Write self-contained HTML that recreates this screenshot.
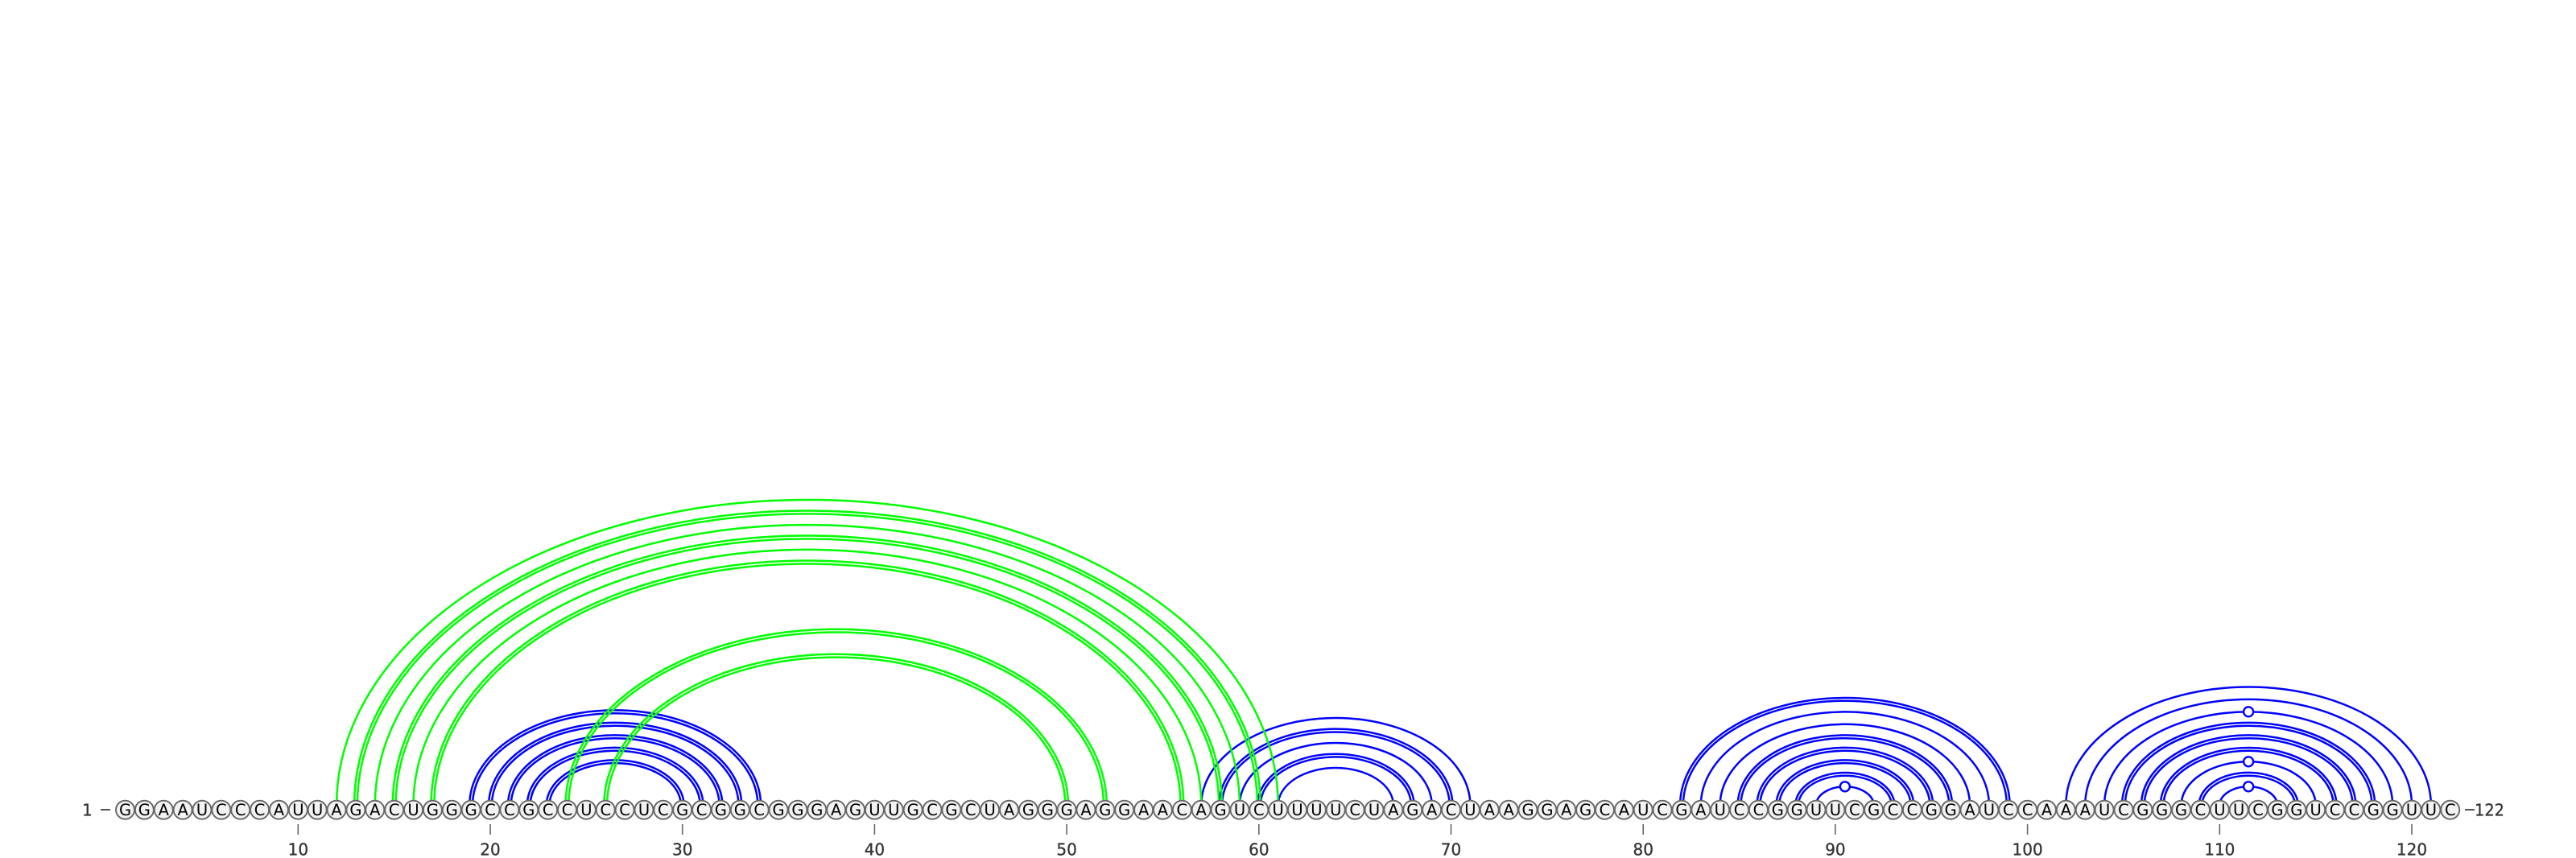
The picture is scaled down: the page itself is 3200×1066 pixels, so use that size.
<!DOCTYPE html>
<html lang="en">
<head>
<meta charset="utf-8">
<title>RNA arc diagram</title>
<style>
html,body{margin:0;padding:0;background:#fff;width:3200px;height:1066px;overflow:hidden}
svg{display:block}
text{font-family:"DejaVu Sans","Liberation Sans",sans-serif}
</style>
</head>
<body>
<svg id="chart" xmlns="http://www.w3.org/2000/svg" width="3200" height="1066" viewBox="0 0 3200 1066">
  <g id="blue-layer"></g>
  <g id="green-layer"></g>
  <g id="base-layer"></g>
  <g id="tick-layer"></g>
  <text x="102" y="1013.5" font-size="20" fill="#333" stroke="#333" stroke-width="0.3">1</text>
  <line x1="125" x2="137" y1="1006" y2="1006" stroke="#555" stroke-width="2"/>
  <line x1="3062" x2="3074" y1="1006" y2="1006" stroke="#555" stroke-width="2"/>
  <text x="3074" y="1013.5" font-size="20" textLength="37" lengthAdjust="spacingAndGlyphs" fill="#333" stroke="#333" stroke-width="0.3">122</text>
</svg>
<script>
const sequence = ["G","G","A","A","U","C","C","C","A","U","U","A","G","A","C","U","G","G","G","C","C","G","C","C","U","C","C","U","C","G","C","G","G","C","G","G","G","A","G","U","U","G","C","G","C","U","A","G","G","G","A","G","G","A","A","C","A","G","U","C","U","U","U","U","C","U","A","G","A","C","U","A","A","G","G","A","G","C","A","U","C","G","A","U","C","C","G","G","U","U","C","G","C","C","G","G","A","U","C","C","A","A","A","U","C","G","G","G","C","U","U","C","G","G","U","C","C","G","G","U","U","C"];
const bluePairs = [[19,34],[20,33],[21,32],[22,31],[23,30],[57,71],[58,70],[59,69],[60,68],[61,67],[82,99],[83,98],[84,97],[85,96],[86,95],[87,94],[88,93],[89,92],[102,121],[103,120],[104,119],[105,118],[106,117],[107,116],[108,115],[109,114],[110,113]];
const greenPairs = [[12,61],[13,60],[14,59],[15,58],[16,57],[17,56],[24,52],[26,50]];
const tickValues = [10,20,30,40,50,60,70,80,90,100,110,120];

const SVG_NS = "http://www.w3.org/2000/svg";
const trackY = 1006.2;
const arcBaseY = 1000.5;
const heightRatio = 0.649;
const xOf = i => 155.5 + (i - 1) * 23.87;

function bondType(i, j) {
  const k = [sequence[i - 1], sequence[j - 1]].sort().join("");
  if (k === "CG") return "double";
  if (k === "GU") return "wobble";
  return "single";
}
function arcPath(i, j, d) {
  const x1 = xOf(i) - d, x2 = xOf(j) + d;
  const rx = (x2 - x1) / 2;
  const ry = (xOf(j) - xOf(i)) / 2 * heightRatio + d;
  return "M" + x1 + " " + arcBaseY + "A" + rx + " " + ry + " 0 0 1 " + x2 + " " + arcBaseY;
}
function drawArcs(layer, pairs, color, label, width, gap) {
  pairs.forEach(function (p) {
    const i = p[0], j = p[1], type = bondType(i, j);
    const offsets = type === "double" ? [gap, -gap] : [0];
    offsets.forEach(function (d) {
      const path = document.createElementNS(SVG_NS, "path");
      path.setAttribute("d", arcPath(i, j, d));
      path.setAttribute("fill", "none");
      path.setAttribute("stroke", color);
      path.setAttribute("stroke-width", width);
      
      
      layer.appendChild(path);
    });
    if (type === "wobble") {
      const c = document.createElementNS(SVG_NS, "circle");
      c.setAttribute("cx", (xOf(i) + xOf(j)) / 2);
      c.setAttribute("cy", arcBaseY - (xOf(j) - xOf(i)) / 2 * heightRatio);
      c.setAttribute("r", "6");
      c.setAttribute("fill", "#fff");
      c.setAttribute("stroke", color);
      c.setAttribute("stroke-width", "2.4");
      
      
      layer.appendChild(c);
    }
  });
}
drawArcs(document.getElementById("blue-layer"), bluePairs, "#0000ff", "blue", "2.5", 1.9);
drawArcs(document.getElementById("green-layer"), greenPairs, "#00ff00", "green", "2.5", 1.9);

const baseLayer = document.getElementById("base-layer");
sequence.forEach(function (letter, idx) {
  const pos = idx + 1;
  const c = document.createElementNS(SVG_NS, "circle");
  c.setAttribute("cx", xOf(pos));
  c.setAttribute("cy", trackY);
  c.setAttribute("r", "11.5");
  c.setAttribute("fill", "#f2f2f2");
  c.setAttribute("stroke", "#666");
  c.setAttribute("stroke-width", "1.9");
  
  
  baseLayer.appendChild(c);
  const t = document.createElementNS(SVG_NS, "text");
  t.setAttribute("x", xOf(pos));
  t.setAttribute("y", trackY + 7);
  t.setAttribute("text-anchor", "middle");
  t.setAttribute("font-size", "19.5");
  t.setAttribute("fill", "#000");
  
  
  t.textContent = letter;
  baseLayer.appendChild(t);
});

const tickLayer = document.getElementById("tick-layer");
tickValues.forEach(function (v) {
  const l = document.createElementNS(SVG_NS, "line");
  l.setAttribute("x1", xOf(v));
  l.setAttribute("x2", xOf(v));
  l.setAttribute("y1", "1024");
  l.setAttribute("y2", "1037");
  l.setAttribute("stroke", "#666");
  l.setAttribute("stroke-width", "1.6");
  
  
  tickLayer.appendChild(l);
  const t = document.createElementNS(SVG_NS, "text");
  t.setAttribute("x", xOf(v));
  t.setAttribute("y", "1062.5");
  t.setAttribute("text-anchor", "middle");
  t.setAttribute("font-size", "20");
  t.setAttribute("fill", "#333");
  t.setAttribute("stroke", "#333");
  t.setAttribute("stroke-width", "0.3");
  
  
  t.textContent = v;
  tickLayer.appendChild(t);
});
</script>
</body>
</html>
